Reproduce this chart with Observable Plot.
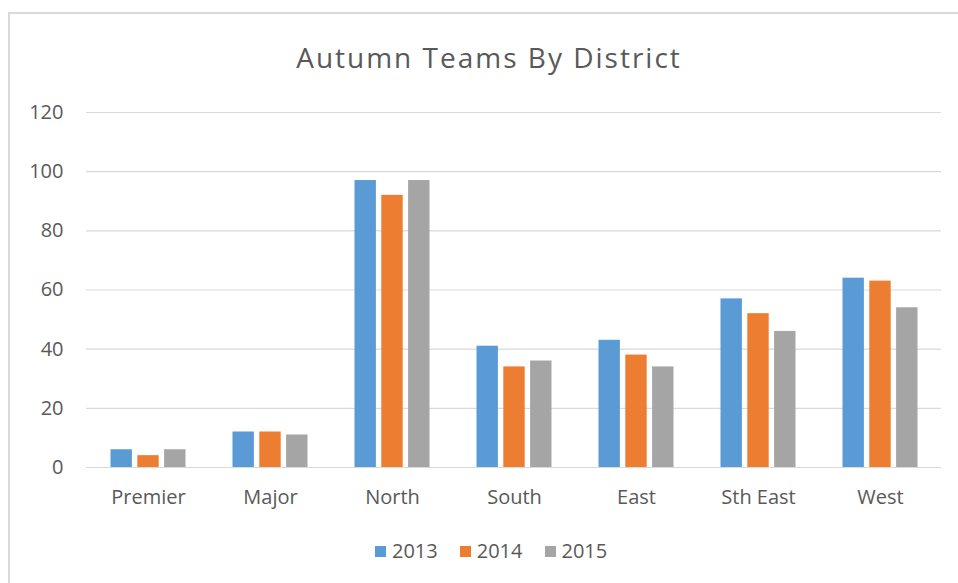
<!DOCTYPE html>
<html>
<head>
<meta charset="utf-8">
<script src="https://cdn.jsdelivr.net/npm/d3@7"></script>
<script src="https://cdn.jsdelivr.net/npm/@observablehq/plot@0.6"></script>
<style>
  html, body { margin: 0; padding: 0; background: #fff; }
  #chart { position: relative; width: 958px; height: 583px; overflow: hidden; font-family: "Open Sans", sans-serif; color: #595959; }
  #frame { position: absolute; left: 8px; top: 12px; width: 960px; height: 600px; border-left: 2px solid #d9d9d9; border-top: 2px solid #d9d9d9; box-sizing: border-box; }
  #title { position: absolute; left: 20px; width: 938px; top: 43px; text-align: center; font-size: 28px; line-height: 28px; letter-spacing: 2px; white-space: nowrap; }
  #plot { position: absolute; left: 0; top: 0; }
  #legend { position: absolute; left: 375px; top: 538px; display: flex; gap: 22px; font-size: 20px; line-height: 26px; }
  .item { display: flex; align-items: center; }
  .swatch { width: 11px; height: 11px; margin-right: 6px; }
</style>
</head>
<body>
<div id="chart">
  <div id="frame"></div>
  <div id="plot"></div>
  <div id="title">Autumn Teams By District</div>
  <div id="legend"></div>
</div>
<script>
const districts = ["Premier", "Major", "North", "South", "East", "Sth East", "West"];
const years = ["2013", "2014", "2015"];
const values2013 = [6, 12, 97, 41, 43, 57, 64];
const values2014 = [4, 12, 92, 34, 38, 52, 63];
const values2015 = [6, 11, 97, 36, 34, 46, 54];
const yTicks = [0, 20, 40, 60, 80, 100, 120];
const colors = ["#5b9bd5", "#ed7d31", "#a5a5a5"];

const series = [values2013, values2014, values2015];
const rows = [];
years.forEach((yr, i) => districts.forEach((d, j) => rows.push({district: d, year: yr, value: series[i][j]})));

const offsets = [-26.8, 0, 26.8];
const barMarks = years.map((yr, i) => Plot.barY(rows.filter(r => r.year === yr), {
  x: "district", y: "value", fill: colors[i],
  insetLeft: 50.3, insetRight: 50.3, dx: offsets[i]
}));

const chart = Plot.plot({
  width: 958,
  height: 520,
  marginTop: 112,
  marginBottom: 53,
  marginLeft: 86,
  marginRight: 17,
  style: {fontFamily: "Open Sans, sans-serif", fontSize: "20px", color: "#595959", background: "transparent", overflow: "visible"},
  x: {domain: districts, padding: 0, label: null, tickSize: 0, tickPadding: 22},
  y: {domain: [0, 120], ticks: yTicks, label: null, tickSize: 0, tickPadding: 23},
  marks: [
    Plot.ruleY(yTicks, {stroke: "#d9d9d9", strokeWidth: 1.2}),
    ...barMarks
  ]
});
document.getElementById("plot").appendChild(chart);

const legend = document.getElementById("legend");
years.forEach((yr, i) => {
  const item = document.createElement("div");
  item.className = "item";
  const sw = document.createElement("span");
  sw.className = "swatch";
  sw.style.background = colors[i];
  const t = document.createElement("span");
  t.textContent = yr;
  item.appendChild(sw); item.appendChild(t);
  legend.appendChild(item);
});
</script>
</body>
</html>
